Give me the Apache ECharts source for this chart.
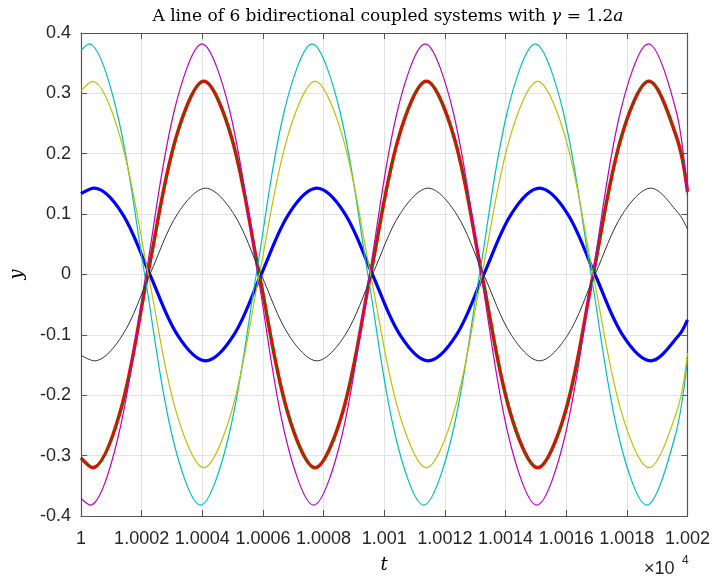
<!DOCTYPE html>
<html>
<head>
<meta charset="utf-8">
<script src="https://cdn.jsdelivr.net/npm/echarts@6/dist/echarts.min.js"></script>
<style>
  html, body { margin: 0; padding: 0; background: #fff; }
  #main { width: 713px; height: 579px; }
</style>
</head>
<body>
<div id="main"></div>
<script>
// values: [t, y] at extrema, zero crossings and in between
var redPts = [
  [10000, -0.304], [10000.38, -0.320], [10001.30, -0.226], [10002.20, 0], [10003.13, 0.226],
  [10004.05, 0.320], [10004.97, 0.226], [10005.88, 0], [10006.80, -0.226], [10007.72, -0.320],
  [10008.64, -0.226], [10009.55, 0], [10010.47, 0.226], [10011.39, 0.320], [10012.31, 0.226],
  [10013.22, 0], [10014.14, -0.226], [10015.06, -0.320], [10015.98, -0.226], [10016.89, 0],
  [10017.81, 0.226], [10018.73, 0.320], [10019.65, 0.226], [10020, 0.137]
];
var yellowPts = [
  [10000, 0.305], [10000.38, 0.320], [10001.30, 0.226], [10002.22, 0], [10003.13, -0.226],
  [10004.05, -0.320], [10004.97, -0.226], [10005.88, 0], [10006.80, 0.226], [10007.72, 0.320],
  [10008.64, 0.226], [10009.55, 0], [10010.47, -0.226], [10011.39, -0.320], [10012.31, -0.226],
  [10013.22, 0], [10014.14, 0.226], [10015.06, 0.320], [10015.98, 0.226], [10016.89, 0],
  [10017.81, -0.226], [10018.73, -0.320], [10019.65, -0.226], [10020, -0.13]
];
var cyanPts = [
  [10000, 0.371], [10000.26, 0.382], [10001.18, 0.270], [10002.10, 0], [10003.02, -0.270],
  [10003.94, -0.382], [10004.86, -0.270], [10005.78, 0], [10006.70, 0.270], [10007.62, 0.382],
  [10008.54, 0.270], [10009.46, 0], [10010.38, -0.270], [10011.30, -0.382], [10012.22, -0.270],
  [10013.14, 0], [10014.06, 0.270], [10014.98, 0.382], [10015.90, 0.270], [10016.82, 0],
  [10017.74, -0.270], [10018.66, -0.382], [10019.58, -0.270], [10020, -0.14]
];
var magentaPts = [
  [10000, -0.371], [10000.30, -0.382], [10001.22, -0.270], [10002.14, 0], [10003.07, 0.270],
  [10003.99, 0.382], [10004.91, 0.270], [10005.83, 0], [10006.75, -0.270], [10007.67, -0.382],
  [10008.59, -0.270], [10009.51, 0], [10010.43, 0.270], [10011.35, 0.382], [10012.27, 0.270],
  [10013.19, 0], [10014.11, -0.270], [10015.03, -0.382], [10015.95, -0.270], [10016.87, 0],
  [10017.79, 0.270], [10018.71, 0.382], [10019.63, 0.270], [10020, 0.13]
];
var bluePts = [
  [10000, 0.134], [10000.44, 0.143], [10001.36, 0.101], [10002.27, 0], [10003.19, -0.101],
  [10004.11, -0.143], [10005.03, -0.101], [10005.94, 0], [10006.86, 0.101], [10007.78, 0.143],
  [10008.70, 0.101], [10009.61, 0], [10010.53, -0.101], [10011.45, -0.143], [10012.37, -0.101],
  [10013.28, 0], [10014.20, 0.101], [10015.12, 0.143], [10016.04, 0.101], [10016.95, 0],
  [10017.87, -0.101], [10018.79, -0.143], [10019.71, -0.101], [10020, -0.075]
];
var blackPts = [
  [10000, -0.134], [10000.44, -0.143], [10001.36, -0.101], [10002.27, 0], [10003.19, 0.101],
  [10004.11, 0.143], [10005.03, 0.101], [10005.94, 0], [10006.86, -0.101], [10007.78, -0.143],
  [10008.70, -0.101], [10009.61, 0], [10010.53, 0.101], [10011.45, 0.143], [10012.37, 0.101],
  [10013.28, 0], [10014.20, -0.101], [10015.12, -0.143], [10016.04, -0.101], [10016.95, 0],
  [10017.87, 0.101], [10018.79, 0.143], [10019.71, 0.101], [10020, 0.075]
];

var tMin = 10000, tMax = 10020, tStep = 2;
var yMin = -0.4, yMax = 0.4, yStep = 0.1;

var labelFont = 'Liberation Sans, Arial, sans-serif';
var serifFont = 'DejaVu Serif, Liberation Serif, serif';
var axisCol = '#555555';
var textCol = '#262626';

function line(pts, color, width, z, type) {
  return {
    type: 'line', data: pts, smooth: 0.34, showSymbol: false, symbol: 'none',
    z: z, animation: false,
    lineStyle: { color: color, width: width, type: type || 'solid' }
  };
}

function boxAxis(pos) {
  var a = {
    type: 'value', position: pos,
    axisLine: { show: true, onZero: false, lineStyle: { color: axisCol, width: 1.2 } },
    axisTick: { show: true, inside: true, length: 6, lineStyle: { color: axisCol } },
    axisLabel: { show: false }, splitLine: { show: false }
  };
  if (pos === 'top') { a.min = tMin; a.max = tMax; a.interval = tStep; }
  else { a.min = yMin; a.max = yMax; a.interval = yStep; }
  return a;
}

var chart = echarts.init(document.getElementById('main'));
chart.setOption({
  animation: false,
  backgroundColor: '#ffffff',
  title: {
    left: 383, top: 3, textAlign: 'center',
    text: '{n|A line of 6 bidirectional coupled systems with }{i|γ}{n| = 1.2}{i|a}',
    textStyle: {
      rich: {
        n: { fontFamily: serifFont, fontSize: 17, fontWeight: 'normal', color: '#000' },
        i: { fontFamily: serifFont, fontSize: 17, fontWeight: 'normal', fontStyle: 'italic', color: '#000' }
      }
    }
  },
  grid: { left: 77, right: 23, top: 33, bottom: 63, containLabel: false },
  xAxis: [{
    type: 'value', min: tMin, max: tMax, interval: tStep,
    axisLine: { show: true, onZero: false, lineStyle: { color: axisCol, width: 1.2 } },
    axisTick: { show: true, inside: true, length: 6, lineStyle: { color: axisCol } },
    splitLine: { show: true, lineStyle: { color: '#e3e3e3', width: 1 } },
    axisLabel: {
      margin: 14, fontFamily: labelFont, fontSize: 18, color: textCol,
      formatter: function (v) { return String(+(v / 1e4).toFixed(4)); }
    },
    name: 't', nameLocation: 'middle', nameGap: 40,
    nameTextStyle: { fontFamily: serifFont, fontStyle: 'italic', fontSize: 18, color: '#000' }
  }, boxAxis('top')],
  yAxis: [{
    type: 'value', min: yMin, max: yMax, interval: yStep,
    axisLine: { show: true, onZero: false, lineStyle: { color: axisCol, width: 1.2 } },
    axisTick: { show: true, inside: true, length: 6, lineStyle: { color: axisCol } },
    splitLine: { show: true, lineStyle: { color: '#e3e3e3', width: 1 } },
    axisLabel: {
      margin: 10, fontFamily: labelFont, fontSize: 18, color: textCol,
      formatter: function (v) { return String(Math.round(v * 10) / 10); }
    },
    name: 'y', nameLocation: 'middle', nameGap: 55, nameRotate: 90,
    nameTextStyle: { fontFamily: serifFont, fontStyle: 'italic', fontSize: 18, color: '#000' }
  }, boxAxis('right')],
  graphic: [
    { type: 'text', left: 644, top: 560, style: { text: '×10', font: '18px ' + labelFont, fill: textCol } },
    { type: 'text', left: 682, top: 555, style: { text: '4', font: '12px ' + labelFont, fill: textCol } }
  ],
  series: [
    line(redPts, '#ff0000', 3.5, 3),
    line(redPts, '#007f00', 1.4, 4, [5, 2]),
    line(bluePts, '#0000ff', 3.2, 3),
    line(cyanPts, '#00bfbf', 1.2, 5),
    line(magentaPts, '#bf00bf', 1.2, 5),
    line(yellowPts, '#bfbf00', 1.2, 5),
    line(blackPts, '#333333', 1, 5)
  ]
});
</script>
</body>
</html>
